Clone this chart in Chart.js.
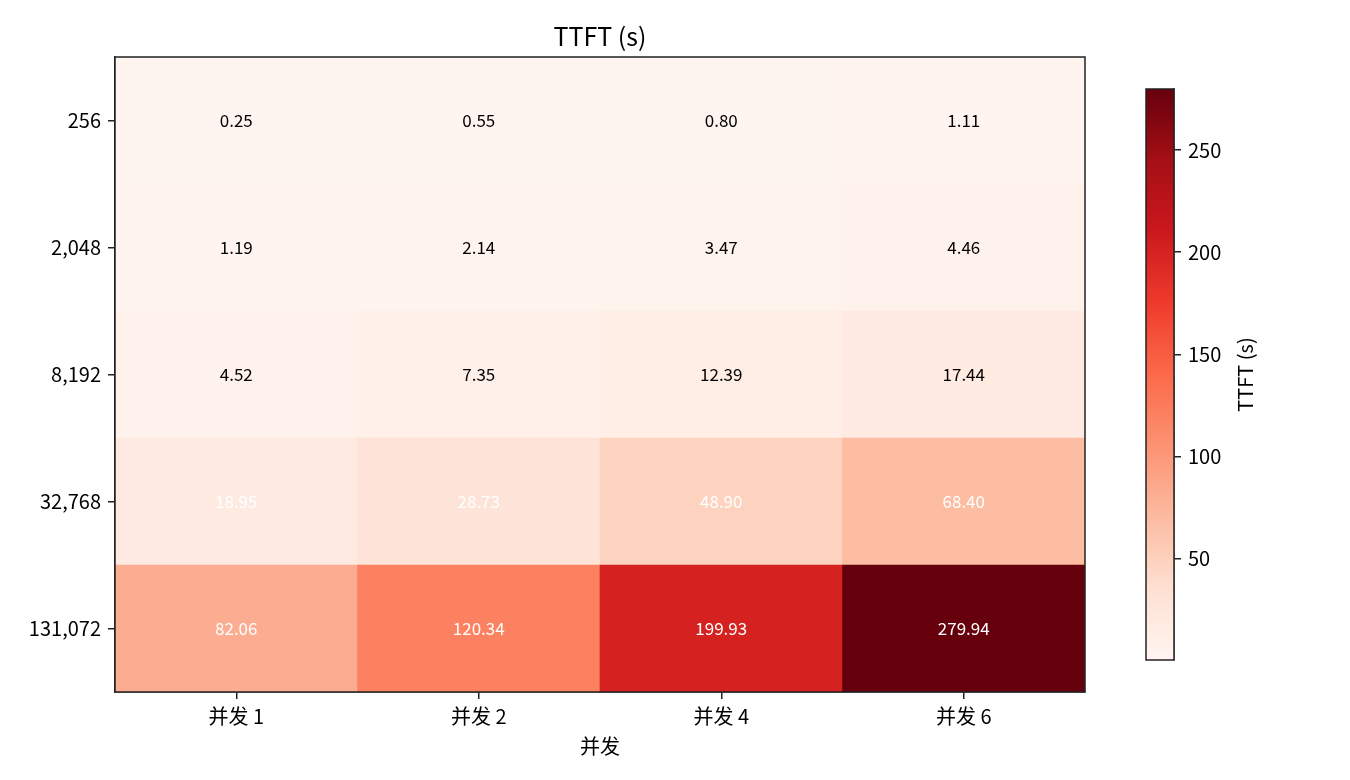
<!DOCTYPE html>
<html>
<head>
<meta charset="utf-8">
<title>TTFT (s)</title>
<script src="https://cdn.jsdelivr.net/npm/chart.js@4.4.0/dist/chart.umd.min.js"></script>
<style>
  html, body { margin: 0; padding: 0; background: #fff; }
  #wrap { position: relative; width: 1350px; height: 780px; }
  #heat { position: absolute; left: 0; top: 0; }
  #cbar { position: absolute; left: 1100px; top: 0; }
</style>
</head>
<body>
<div id="wrap">
  <canvas id="heat" width="1100" height="780"></canvas>
  <canvas id="cbar" width="250" height="780"></canvas>
</div>
<script>
// Datos del mapa de calor (filas de arriba a abajo)
const rowLabels = ['256', '2,048', '8,192', '32,768', '131,072'];
const colLabels = ['并发 1', '并发 2', '并发 4', '并发 6'];
const row256 = [0.25, 0.55, 0.80, 1.11];
const row2048 = [1.19, 2.14, 3.47, 4.46];
const row8192 = [4.52, 7.35, 12.39, 17.44];
const row32768 = [18.95, 28.73, 48.90, 68.40];
const row131072 = [82.06, 120.34, 199.93, 279.94];
const cbarTicks = [50, 100, 150, 200, 250];

const rowsData = [row256, row2048, row8192, row32768, row131072];
const allVals = rowsData.flat();
const vmin = Math.min(...allVals);
const vmax = Math.max(...allVals);

const FONT = "'Noto Sans CJK SC', 'Noto Sans', sans-serif";
const INK = '#000';
const SPINE = '#222';

// Paleta "Reds" de matplotlib
const reds = ['#fff5f0', '#fee0d2', '#fcbba1', '#fc9272', '#fb6a4a', '#ef3b2c', '#cb181d', '#a50f15', '#67000d'];

function hexToRgb(h) {
  return [parseInt(h.slice(1, 3), 16), parseInt(h.slice(3, 5), 16), parseInt(h.slice(5, 7), 16)];
}

function redsColor(v) {
  let t = (v - vmin) / (vmax - vmin);
  t = Math.max(0, Math.min(1, t));
  const pos = t * (reds.length - 1);
  const i = Math.min(Math.floor(pos), reds.length - 2);
  const f = pos - i;
  const a = hexToRgb(reds[i]), b = hexToRgb(reds[i + 1]);
  const c = a.map((x, k) => Math.round(x + (b[k] - x) * f));
  return 'rgb(' + c.join(',') + ')';
}

// Marco completo alrededor del área
const framePlugin = {
  id: 'frame',
  afterDraw(chart) {
    const { ctx, chartArea: a } = chart;
    ctx.save();
    ctx.strokeStyle = SPINE;
    ctx.lineWidth = 1.5;
    ctx.strokeRect(a.left, a.top, a.right - a.left, a.bottom - a.top);
    ctx.restore();
  }
};

// Título centrado sobre el área del gráfico
const axesTitle = {
  id: 'axesTitle',
  afterDraw(chart) {
    const { ctx, chartArea: a } = chart;
    ctx.save();
    ctx.fillStyle = INK;
    ctx.font = '25px ' + FONT;
    ctx.textAlign = 'center';
    ctx.textBaseline = 'middle';
    ctx.fillText('TTFT (s)', (a.left + a.right) / 2, 36);
    ctx.restore();
  }
};

// Valores dentro de cada celda
const cellLabels = {
  id: 'cellLabels',
  afterDatasetsDraw(chart) {
    const { ctx } = chart;
    ctx.save();
    ctx.font = '17px ' + FONT;
    ctx.textAlign = 'center';
    ctx.textBaseline = 'middle';
    chart.data.datasets.forEach((ds, i) => {
      const meta = chart.getDatasetMeta(i);
      meta.data.forEach((bar, j) => {
        const v = ds.values[j];
        ctx.fillStyle = v > 18 ? '#fff' : '#000';
        ctx.fillText(v.toFixed(2), bar.x, (bar.y + bar.base) / 2);
      });
    });
    ctx.restore();
  }
};

// Una serie apilada por fila; la fila inferior va primero
const datasets = rowsData.slice().reverse().map((vals, i) => ({
  label: rowLabels[rowLabels.length - 1 - i],
  values: vals,
  data: vals.map(() => 1),
  backgroundColor: vals.map(redsColor),
  borderWidth: 0,
  barPercentage: 1,
  categoryPercentage: 1
}));

new Chart(document.getElementById('heat'), {
  type: 'bar',
  data: { labels: colLabels, datasets: datasets },
  options: {
    responsive: false,
    animation: false,
    layout: { padding: { left: 0, right: 15, top: 57, bottom: 0 } },
    plugins: {
      legend: { display: false },
      tooltip: { enabled: false },
      title: { display: false }
    },
    scales: {
      x: {
        stacked: true,
        grid: { offset: false, drawOnChartArea: false, tickLength: 7, tickColor: SPINE, lineWidth: 1.5 },
        border: { color: SPINE, width: 1.5 },
        ticks: { color: INK, font: { family: FONT, size: 20 }, padding: 5, maxRotation: 0 },
        title: {
          display: true,
          text: '并发',
          color: INK,
          font: { family: FONT, size: 20 },
          padding: { top: 0, bottom: 22 }
        },
        afterFit(s) { s.height = 780 - 692; }
      },
      y: {
        stacked: true,
        min: 0,
        max: rowLabels.length,
        afterBuildTicks(s) {
          s.ticks = rowLabels.map((_, i) => ({ value: i + 0.5 }));
        },
        grid: { drawOnChartArea: false, tickLength: 7, tickColor: SPINE, lineWidth: 1.5 },
        border: { color: SPINE, width: 1.5 },
        ticks: {
          color: INK,
          font: { family: FONT, size: 20 },
          padding: 7,
          callback: (v) => rowLabels[rowLabels.length - 1 - Math.floor(v)]
        },
        afterFit(s) { s.width = 115; }
      }
    }
  },
  plugins: [cellLabels, framePlugin, axesTitle]
});

// Barra de color
const cbarLabel = {
  id: 'cbarLabel',
  afterDraw(chart) {
    const { ctx, chartArea: a } = chart;
    ctx.save();
    ctx.fillStyle = INK;
    ctx.font = '20px ' + FONT;
    ctx.textAlign = 'center';
    ctx.textBaseline = 'middle';
    ctx.translate(145, (a.top + a.bottom) / 2);
    ctx.rotate(-Math.PI / 2);
    ctx.fillText('TTFT (s)', 0, 0);
    ctx.restore();
  }
};

new Chart(document.getElementById('cbar'), {
  type: 'bar',
  data: {
    labels: ['cbar'],
    datasets: [{
      data: [[vmin, vmax]],
      borderWidth: 0,
      barPercentage: 1,
      categoryPercentage: 1,
      backgroundColor(ctx) {
        const a = ctx.chart.chartArea;
        if (!a) return reds[0];
        const g = ctx.chart.ctx.createLinearGradient(0, a.bottom, 0, a.top);
        reds.forEach((c, i) => g.addColorStop(i / (reds.length - 1), c));
        return g;
      }
    }]
  },
  options: {
    responsive: false,
    animation: false,
    layout: { padding: { left: 46, right: 0, top: 89, bottom: 120 } },
    plugins: { legend: { display: false }, tooltip: { enabled: false } },
    scales: {
      x: { display: false },
      y: {
        position: 'right',
        min: vmin,
        max: vmax,
        afterBuildTicks(s) {
          s.ticks = cbarTicks.map(v => ({ value: v }));
        },
        grid: { drawOnChartArea: false, tickLength: 7, tickColor: SPINE, lineWidth: 1.5 },
        border: { color: SPINE, width: 1.5 },
        ticks: { color: INK, font: { family: FONT, size: 20 }, padding: 7 },
        afterFit(s) { s.width = 250 - 74; }
      }
    }
  },
  plugins: [framePlugin, cbarLabel]
});
</script>
</body>
</html>
